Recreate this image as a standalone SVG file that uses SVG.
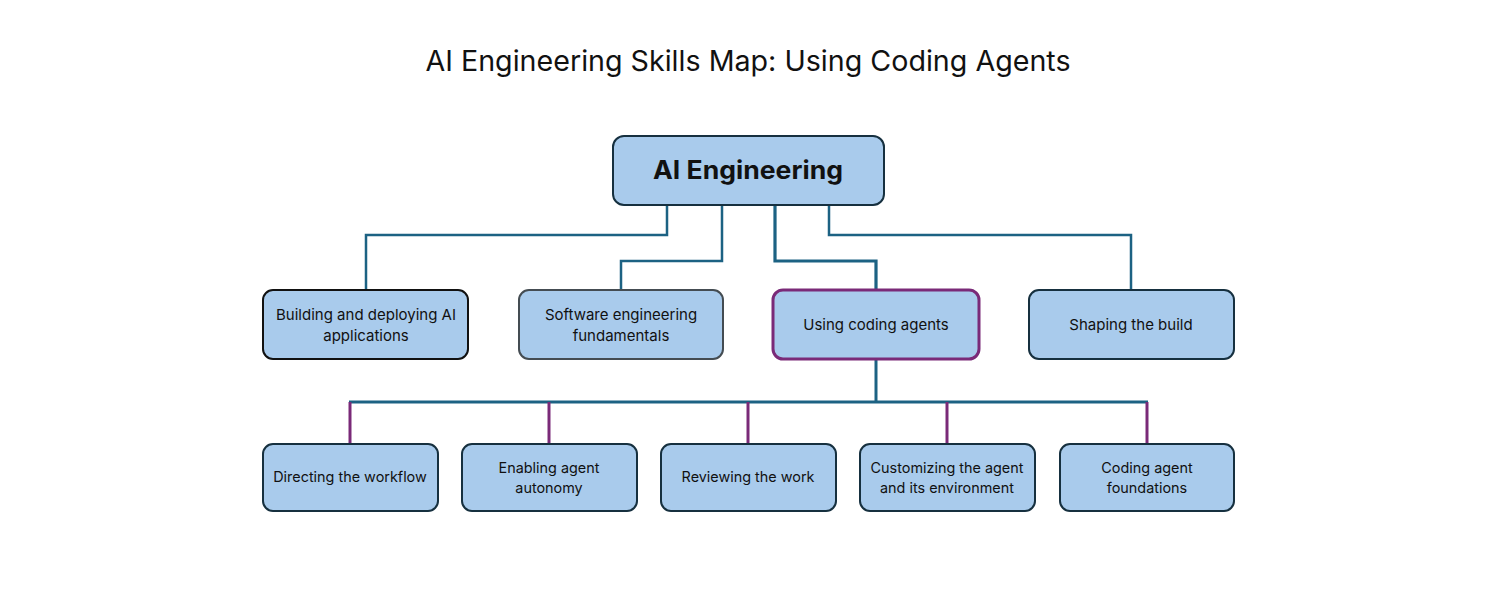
<svg xmlns="http://www.w3.org/2000/svg" width="1507" height="603" viewBox="0 0 1507 603">
<style>
.box{fill:#a9cbec;stroke:#16303f;stroke-width:2}
.lbl{font-family:Inter,"Open Sans","Liberation Sans",sans-serif;font-size:15px;fill:#111;text-anchor:middle}
.sm{font-size:14.4px}
.title{font-family:Inter,"Liberation Sans",sans-serif;font-size:28px;fill:#111;text-anchor:middle}
.root{font-family:Inter,"Liberation Sans",sans-serif;font-size:25px;font-weight:bold;fill:#111;text-anchor:middle}
.c{fill:none;stroke:#1c6283;stroke-width:2.5}
.p{fill:none;stroke:#7a2a78;stroke-width:3}
</style>
<rect width="1507" height="603" fill="#ffffff"/>
<text class="title" x="748" y="71" textLength="645" lengthAdjust="spacingAndGlyphs">AI Engineering Skills Map: Using Coding Agents</text>
<g id="connectors">
<path class="c" d="M667 205 V235 H366 V290"/>
<path class="c" d="M722 205 V261 H621 V290"/>
<path class="c" d="M775 205 V261 H876 V290" style="stroke-width:3.2"/>
<path class="c" d="M829 205 V235 H1131 V290"/>
<path class="c" d="M876 359 V402" style="stroke-width:3"/>
<path class="c" d="M349 402 H1148" style="stroke-width:3"/>
<path class="p" d="M350 402 V444"/>
<path class="p" d="M549 402 V444"/>
<path class="p" d="M748 402 V444"/>
<path class="p" d="M947 402 V444"/>
<path class="p" d="M1147 402 V444"/>
</g>
<g id="root">
<rect class="box" x="613" y="136" width="271" height="69" rx="11"/>
<text class="root" x="748" y="179" textLength="190" lengthAdjust="spacingAndGlyphs">AI Engineering</text>
</g>
<g id="n-building">
<rect class="box" x="263" y="290" width="205" height="69" rx="10" style="stroke:#111"/>
<text class="lbl" x="366" y="320">Building and deploying AI</text>
<text class="lbl" x="366" y="341">applications</text>
</g>
<g id="n-software">
<rect class="box" x="519" y="290" width="204" height="69" rx="10" style="stroke:#444c52"/>
<text class="lbl" x="621" y="320">Software engineering</text>
<text class="lbl" x="621" y="341">fundamentals</text>
</g>
<g id="n-using">
<rect class="box" x="773" y="290" width="206" height="69" rx="10" style="stroke:#7a2a78;stroke-width:3"/>
<text class="lbl" x="876" y="330">Using coding agents</text>
</g>
<g id="n-shaping">
<rect class="box" x="1029" y="290" width="205" height="69" rx="10"/>
<text class="lbl" x="1131" y="330">Shaping the build</text>
</g>
<g id="n-directing">
<rect class="box" x="263" y="444" width="175" height="67" rx="10"/>
<text class="lbl sm" x="350" y="482">Directing the workflow</text>
</g>
<g id="n-enabling">
<rect class="box" x="462" y="444" width="175" height="67" rx="10"/>
<text class="lbl sm" x="549" y="473">Enabling agent</text>
<text class="lbl sm" x="549" y="493">autonomy</text>
</g>
<g id="n-reviewing">
<rect class="box" x="661" y="444" width="175" height="67" rx="10"/>
<text class="lbl sm" x="748" y="482">Reviewing the work</text>
</g>
<g id="n-customizing">
<rect class="box" x="860" y="444" width="175" height="67" rx="10"/>
<text class="lbl sm" x="947" y="473">Customizing the agent</text>
<text class="lbl sm" x="947" y="493">and its environment</text>
</g>
<g id="n-foundations">
<rect class="box" x="1060" y="444" width="174" height="67" rx="10"/>
<text class="lbl sm" x="1147" y="473">Coding agent</text>
<text class="lbl sm" x="1147" y="493">foundations</text>
</g>
</svg>
